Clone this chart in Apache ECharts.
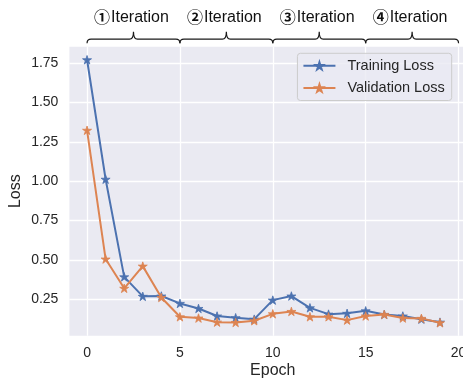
<!DOCTYPE html>
<html>
<head>
<meta charset="utf-8">
<script src="https://cdn.jsdelivr.net/npm/echarts@6/dist/echarts.min.js"></script>
<style>
html,body{margin:0;padding:0;background:#ffffff;}
#main{width:463px;height:381px;}
</style>
</head>
<body>
<div id="main"></div>
<script>
// ---- data ----
var epochs = [0,1,2,3,4,5,6,7,8,9,10,11,12,13,14,15,16,17,18,19];
var trainingLoss = [1.772,1.013,0.393,0.269,0.271,0.224,0.192,0.144,0.133,0.124,0.245,0.271,0.196,0.156,0.161,0.177,0.154,0.144,0.124,0.105];
var validationLoss = [1.324,0.506,0.320,0.461,0.262,0.139,0.131,0.105,0.103,0.114,0.158,0.173,0.139,0.139,0.118,0.144,0.154,0.131,0.129,0.101];
var xTicks = [0,5,10,15,20];
var yTicks = [0.25,0.50,0.75,1.00,1.25,1.50,1.75];
var braceStarts = [0,5,10,15];
var braceEnds = [5,10,15,20];
var braceNumbers = ['\u2460','\u2461','\u2462','\u2463'];
var braceWord = 'Iteration';
var seriesNames = ['Training Loss','Validation Loss'];

var FONT = 'Liberation Sans, Arial, DejaVu Sans, sans-serif';
var TXT = '#262626';
var BLUE = '#4C72B0';
var ORANGE = '#DD8452';
var STAR = 'path://M0,-100L22.45,-30.9L95.1,-30.9L36.3,11.8L58.8,80.9L0,38.2L-58.8,80.9L-36.3,11.8L-95.1,-30.9L-22.45,-30.9Z';

var X_MIN = -0.95, X_MAX = 20.95, Y_MIN = 0.019, Y_MAX = 1.855;

function pairs(xs, ys){ return xs.map(function(x,i){ return [x, ys[i]]; }); }
var braceData = braceStarts.map(function(s,i){ return [s, braceEnds[i], Y_MAX]; });

var chart = echarts.init(document.getElementById('main'), null, {renderer:'canvas'});
chart.setOption({
  animation: false,
  backgroundColor: '#ffffff',
  textStyle: {fontFamily: FONT},
  grid: {left: 69.4, right: -13.2, top: 46.7, bottom: 45.3, show: true, backgroundColor: '#EAEAF2', borderWidth: 0,
         containLabel: false, outerBoundsMode: 'none'},
  legend: {
    data: seriesNames,
    orient: 'vertical',
    right: 11.3, top: 53.3,
    itemWidth: 32, itemHeight: 9, itemGap: 7.2,
    padding: [5, 7, 5, 5],
    backgroundColor: 'rgba(234,234,242,0.8)',
    borderColor: '#cccccc', borderWidth: 1, borderRadius: 3,
    textStyle: {fontSize: 14.5, color: TXT, fontFamily: FONT, padding: [0,0,0,7]}
  },
  xAxis: {
    type: 'value', min: X_MIN, max: X_MAX,
    name: 'Epoch', nameLocation: 'middle', nameGap: 27, nameMoveOverlap: false,
    nameTextStyle: {fontSize: 16, color: TXT, fontFamily: FONT},
    axisLine: {show: false}, axisTick: {show: false, customValues: xTicks},
    axisLabel: {customValues: xTicks, fontSize: 14, color: TXT, margin: 10, fontFamily: FONT},
    splitLine: {show: true, lineStyle: {color: '#ffffff', width: 1.3}}
  },
  yAxis: {
    type: 'value', min: Y_MIN, max: Y_MAX,
    name: 'Loss', nameLocation: 'middle', nameGap: 46, nameMoveOverlap: false,
    nameTextStyle: {fontSize: 16, color: TXT, fontFamily: FONT},
    axisLine: {show: false}, axisTick: {show: false, customValues: yTicks},
    axisLabel: {customValues: yTicks, fontSize: 14, color: TXT, margin: 11, fontFamily: FONT,
      formatter: function(v){ return v.toFixed(2); }},
    splitLine: {show: true, lineStyle: {color: '#ffffff', width: 1.3}}
  },
  series: [
    {
      name: seriesNames[0], type: 'line', data: pairs(epochs, trainingLoss),
      symbol: STAR, symbolSize: 9, symbolKeepAspect: true, showSymbol: true,
      lineStyle: {color: BLUE, width: 2}, itemStyle: {color: BLUE, borderColor: BLUE, borderWidth: 0.8},
      z: 3
    },
    {
      name: seriesNames[1], type: 'line', data: pairs(epochs, validationLoss),
      symbol: STAR, symbolSize: 9, symbolKeepAspect: true, showSymbol: true,
      lineStyle: {color: ORANGE, width: 2}, itemStyle: {color: ORANGE, borderColor: ORANGE, borderWidth: 0.8},
      z: 4
    },
    {
      name: 'braces', type: 'custom', clip: false, silent: true,
      data: braceData,
      encode: {x: [0,1], y: 2},
      renderItem: function(params, api){
        var xs = api.coord([api.value(0), api.value(2)])[0];
        var xe = api.coord([api.value(1), api.value(2)])[0];
        var xm = (xs + xe) / 2;
        var top = params.coordSys.y;
        var yEnd = top - 3.5, yLine = top - 7.5, yTip = top - 15;
        var r = 4;
        var d = 'M' + xs + ',' + yEnd +
          ' Q' + xs + ',' + yLine + ' ' + (xs + r) + ',' + yLine +
          ' L' + (xm - r) + ',' + yLine +
          ' Q' + xm + ',' + yLine + ' ' + xm + ',' + yTip +
          ' Q' + xm + ',' + yLine + ' ' + (xm + r) + ',' + yLine +
          ' L' + (xe - r) + ',' + yLine +
          ' Q' + xe + ',' + yLine + ' ' + xe + ',' + yEnd;
        return {
          type: 'group',
          children: [
            {type: 'path', shape: {pathData: d}, style: {fill: null, stroke: '#1a1a1a', lineWidth: 1.2}},
            {type: 'text', x: xm - 2, y: top - 29.5,
             style: {text: '{c|' + braceNumbers[params.dataIndex] + '}{w|' + braceWord + '}',
                     align: 'center', verticalAlign: 'middle',
                     rich: {
                       c: {fontFamily: 'Noto Sans CJK SC', fontWeight: 'bold', fontSize: 16, fill: '#111111', padding: [0,1,0,0]},
                       w: {fontFamily: FONT, fontSize: 16, fill: '#111111'}
                     }}}
          ]
        };
      },
      z: 5
    }
  ]
});
</script>
</body>
</html>
